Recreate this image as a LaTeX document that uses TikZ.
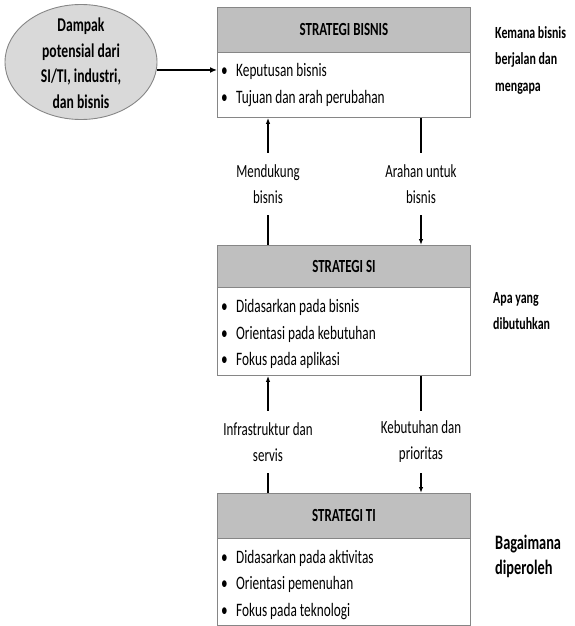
\documentclass[tikz,border=0pt]{standalone}
\usepackage{fontspec}
\setmainfont{Carlito}[FakeStretch=0.7]
\usetikzlibrary{arrows.meta,shapes.geometric}
\definecolor{framegray}{HTML}{868686}
\definecolor{headgray}{HTML}{BFBFBF}
\definecolor{ovalgray}{HTML}{D9D9D9}
\newcommand\bul[1]{\makebox[15pt][l]{•}#1}
\tikzset{
  bodybox/.style={draw=framegray, line width=0.9pt, fill=white, minimum width=253pt,
    inner sep=0pt, anchor=north west},
  headbox/.style={draw=framegray, line width=0.9pt, fill=headgray, minimum width=253pt,
    inner sep=0pt, anchor=north west, font=\fontsize{18.5}{20}\selectfont\bfseries},
  itemtext/.style={anchor=base west, inner sep=0pt, font=\fontsize{19}{21}\selectfont},
  flowlabel/.style={align=center, inner sep=0pt, minimum height=62pt,
    font=\fontsize{18.5}{26}\selectfont},
  sidetext/.style={anchor=base west, inner sep=0pt, font=\fontsize{17}{20}\selectfont\bfseries},
  bigside/.style={anchor=base west, inner sep=0pt, font=\fontsize{20.5}{22}\selectfont\bfseries},
  link/.style={line width=1.2pt},
  tipped/.style={-{Latex[length=6pt,width=4.5pt]}}
}
\begin{document}
\begin{tikzpicture}[x=1pt,y=-1pt]
\useasboundingbox (0,0) rectangle (574,626);

% influence oval on the left
\node[ellipse, draw=framegray, line width=0.9pt, fill=ovalgray, minimum width=152pt,
  minimum height=115pt, inner sep=0pt] (e) at (81,62) {};
\node[align=center, inner sep=0pt, font=\fontsize{19.5}{25.5}\selectfont\bfseries] (et) at (81,63)
  {Dampak\\potensial dari\\SI/TI, industri,\\dan bisnis};

% business strategy
\node[bodybox, minimum height=110pt] (b1) at (217,7) {};
\node[headbox, minimum height=45pt] (h1) at (217,7) {STRATEGI BISNIS};
\node[itemtext] (i11) at (221,77) {\bul{Keputusan bisnis}};
\node[itemtext] (i12) at (221,103) {\bul{Tujuan dan arah perubahan}};

% IS strategy
\node[bodybox, minimum height=130pt] (b2) at (217,245) {};
\node[headbox, minimum height=42pt] (h2) at (217,245) {STRATEGI SI};
\node[itemtext] (i21) at (221,312) {\bul{Didasarkan pada bisnis}};
\node[itemtext] (i22) at (221,339) {\bul{Orientasi pada kebutuhan}};
\node[itemtext] (i23) at (221,365) {\bul{Fokus pada aplikasi}};

% IT strategy
\node[bodybox, minimum height=132pt] (b3) at (217,493) {};
\node[headbox, minimum height=45pt] (h3) at (217,493) {STRATEGI TI};
\node[itemtext] (i31) at (221,563) {\bul{Didasarkan pada aktivitas}};
\node[itemtext] (i32) at (221,589) {\bul{Orientasi pemenuhan}};
\node[itemtext] (i33) at (221,616) {\bul{Fokus pada teknologi}};

% side questions
\node[sidetext] (s11) at (495,39) {Kemana bisnis};
\node[sidetext] (s12) at (495,65) {berjalan dan};
\node[sidetext] (s13) at (495,91) {mengapa};
\node[sidetext] (s21) at (493,303) {Apa yang};
\node[sidetext] (s22) at (493,329) {dibutuhkan};
\node[bigside] (s31) at (495,549) {Bagaimana};
\node[bigside] (s32) at (495,574) {diperoleh};

% flow labels between the strategy levels
\node[flowlabel] (m1) at (268,184) {Mendukung\\bisnis};
\node[flowlabel] (a1) at (421,184) {Arahan untuk\\bisnis};
\node[flowlabel] (m2) at (268,442) {Infrastruktur dan\\servis};
\node[flowlabel] (a2) at (421,442) {Kebutuhan dan\\prioritas};

% connectors
\draw[line width=2pt, -{Latex[length=7pt,width=6pt]}] (e.-6) -- (e.-6 -| b1.west);
\draw[link, tipped] (m1.north) -- (m1.north |- b1.south);
\draw[link] (m1.south) -- (m1.south |- b2.north);
\draw[link] (a1.north |- b1.south) -- (a1.north);
\draw[link, tipped] (a1.south) -- (a1.south |- b2.north);
\draw[link, tipped] (m2.north) -- (m2.north |- b2.south);
\draw[link] (m2.south) -- (m2.south |- b3.north);
\draw[link] (a2.north |- b2.south) -- (a2.north);
\draw[link, tipped] (a2.south) -- (a2.south |- b3.north);
\end{tikzpicture}
\end{document}
